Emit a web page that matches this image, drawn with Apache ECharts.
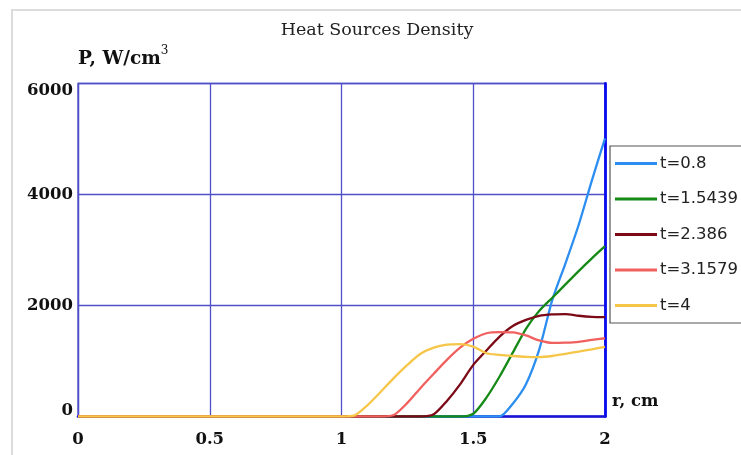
<!DOCTYPE html>
<html>
<head>
<meta charset="utf-8">
<script src="https://cdn.jsdelivr.net/npm/echarts@6/dist/echarts.min.js"></script>
<style>
  html, body { margin: 0; padding: 0; background: #fff; }
  #chart { width: 741px; height: 455px; }
</style>
</head>
<body>
<div id="chart"></div>
<script>
// Radius samples, cm (flat zero region before 0.9 cm)
const radius = [0, 0.90, 0.95, 1.00, 1.05, 1.10, 1.15, 1.20, 1.25, 1.30, 1.35, 1.40,
  1.45, 1.50, 1.55, 1.60, 1.65, 1.70, 1.75, 1.80, 1.85, 1.90, 1.95, 2.00];

// Heat source density P, W/cm^3, at each radius for every time moment
const p_t0_8 = [0, 0, 0, 0, 0, 0, 0, 0, 0, 0, 0, 0,
  0, 0, 0, 0, 230, 580, 1200, 2100, 2760, 3450, 4250, 5010];
const p_t1_5439 = [0, 0, 0, 0, 0, 0, 0, 0, 0, 0, 0, 0,
  0, 50, 340, 720, 1150, 1580, 1900, 2140, 2380, 2620, 2850, 3070];
const p_t2_386 = [0, 0, 0, 0, 0, 0, 0, 0, 0, 0, 40, 280,
  580, 930, 1190, 1440, 1630, 1740, 1815, 1840, 1845, 1815, 1795, 1790];
const p_t3_1579 = [0, 0, 0, 0, 0, 0, 0, 30, 245, 515, 770, 1020,
  1240, 1400, 1500, 1520, 1515, 1460, 1370, 1325, 1330, 1345, 1380, 1410];
const p_t4 = [0, 0, 0, 0, 20, 210, 450, 700, 930, 1130, 1240, 1295,
  1305, 1260, 1140, 1110, 1090, 1075, 1070, 1090, 1130, 1170, 1210, 1255];

const seriesNames = ['t=0.8', 't=1.5439', 't=2.386', 't=3.1579', 't=4'];
const seriesValues = [p_t0_8, p_t1_5439, p_t2_386, p_t3_1579, p_t4];
const seriesColors = ['#2b8ef0', '#168a16', '#7c0a16', '#f0605e', '#f6c648'];

const xTicks = [0, 0.5, 1, 1.5, 2];
const yTicks = [0, 2000, 4000, 6000];

const serif = 'DejaVu Serif';
const gridColor = '#5050c8';

const chart = echarts.init(document.getElementById('chart'), null, { renderer: 'canvas' });

const series = seriesNames.map((name, i) => ({
  name: name,
  type: 'line',
  data: radius.map((r, k) => [r, seriesValues[i][k]]),
  symbol: 'none',
  smooth: 0.25,
  lineStyle: { color: seriesColors[i], width: 2.3 },
  itemStyle: { color: seriesColors[i] },
  xAxisIndex: 0,
  yAxisIndex: 0
}));

chart.setOption({
  animation: false,
  backgroundColor: '#fff',
  title: {
    text: 'Heat Sources Density',
    left: 372,
    textAlign: 'center',
    top: 16,
    textStyle: { fontFamily: serif, fontWeight: 'normal', fontSize: 17.5, color: '#222' }
  },
  graphic: [{
    type: 'rect',
    shape: { x: 12, y: 10, width: 800, height: 500 },
    style: { fill: 'none', stroke: '#dcdcdc', lineWidth: 2 },
    silent: true,
    z: -1
  }],
  legend: {
    orient: 'vertical',
    left: 610,
    top: 146,
    padding: [9, 20, 9, 5],
    icon: 'rect',
    itemWidth: 42,
    itemHeight: 3,
    itemGap: 18.5,
    borderColor: '#555',
    borderWidth: 1.2,
    backgroundColor: '#fff',
    data: seriesNames,
    textStyle: { fontFamily: 'DejaVu Sans', fontSize: 16.5, color: '#222', padding: [0, 0, 0, -2] }
  },
  grid: {
    left: 78, right: 136, top: 83.5, bottom: 38.5,
    show: true,
    borderColor: gridColor,
    borderWidth: 1.3,
    containLabel: false
  },
  xAxis: {
    type: 'value',
    min: 0, max: 2, interval: 0.5,
    name: 'r, cm',
    nameLocation: 'end',
    nameGap: 7,
    nameTextStyle: {
      fontFamily: serif, fontWeight: 'bold', fontSize: 16.5, color: '#111',
      align: 'left', verticalAlign: 'bottom', padding: [0, 0, 6, 0]
    },
    axisLine: { show: true, onZero: false, lineStyle: { color: '#1a14d8', width: 2.6 } },
    axisTick: { show: false },
    splitLine: { show: true, lineStyle: { color: gridColor, width: 1.3 } },
    axisLabel: {
      margin: 15,
      fontFamily: serif, fontWeight: 'bold', fontSize: 16.5, color: '#111',
      formatter: v => xTicks.indexOf(v) >= 0 ? String(v) : ''
    }
  },
  yAxis: [{
    type: 'value',
    min: 0, max: 6000, interval: 2000,
    name: '{b|P, W/cm}{s|3}',
    nameLocation: 'end',
    nameGap: 15,
    nameTextStyle: {
      align: 'left', verticalAlign: 'bottom',
      rich: {
        b: { fontFamily: serif, fontWeight: 'bold', fontSize: 18.5, color: '#111', verticalAlign: 'bottom' },
        s: { fontFamily: serif, fontSize: 12, color: '#111', verticalAlign: 'top', padding: [0, 0, 12, 0] }
      }
    },
    axisLine: { show: true, lineStyle: { color: gridColor, width: 1.3 } },
    axisTick: { show: false },
    splitLine: { show: true, lineStyle: { color: gridColor, width: 1.3 } },
    axisLabel: {
      margin: 5,
      formatter: v => {
        if (yTicks.indexOf(v) < 0) return '';
        if (v === 0) return '{lo|' + v + '}';
        if (v === 6000) return '{hi|' + v + '}';
        return '{n|' + v + '}';
      },
      rich: {
        n: { fontFamily: serif, fontWeight: 'bold', fontSize: 16.5, color: '#111' },
        lo: { fontFamily: serif, fontWeight: 'bold', fontSize: 16.5, color: '#111', padding: [0, 0, 12, 0] },
        hi: { fontFamily: serif, fontWeight: 'bold', fontSize: 16.5, color: '#111', padding: [14, 0, 0, 0] }
      }
    }
  }, {
    type: 'value',
    position: 'right',
    min: 0, max: 6000, interval: 2000,
    axisLine: { show: true, lineStyle: { color: '#0a0af0', width: 2.8 } },
    axisTick: { show: false },
    axisLabel: { show: false },
    splitLine: { show: false }
  }],
  series: series
});
</script>
</body>
</html>
